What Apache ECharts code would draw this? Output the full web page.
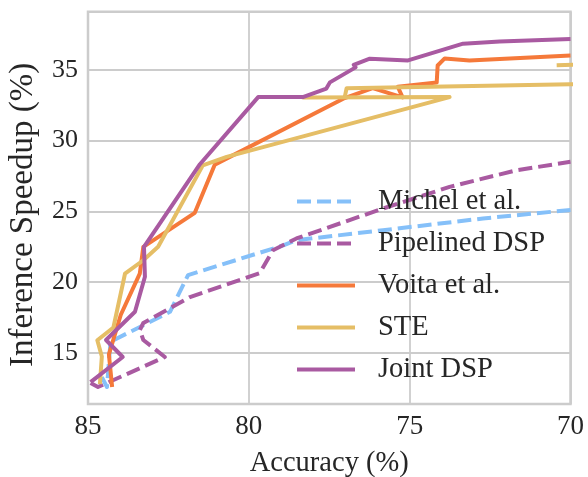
<!DOCTYPE html>
<html>
<head>
<meta charset="utf-8">
<script src="https://cdn.jsdelivr.net/npm/echarts@6/dist/echarts.min.js"></script>
<style>html,body{margin:0;padding:0;background:#fff}#c{width:588px;height:477px}</style>
</head>
<body>
<div id="c"></div>
<script>
// Data: [accuracy %, inference speedup %]
const michel = [[84.57,13.3],[84.41,12.6],[84.3,15.8],[82.45,17.91],[81.89,20.5],[78.93,22.6],[78.52,22.97],[75.83,23.67],[72.72,24.5],[70.0,25.1]];
const pipelined = [[84.92,12.88],[84.69,12.6],[82.61,14.72],[83.28,15.92],[83.39,16.62],[83.28,17.12],[81.83,18.95],[79.66,20.64],[79.25,22.26],[78.52,23.09],[75.83,25.2],[73.76,26.73],[71.69,27.9],[70.0,28.5]];
const voita = [[84.25,12.6],[84.35,14.9],[83.98,17.7],[83.39,20.6],[83.28,22.5],[81.68,24.9],[81.06,28.3],[77.02,33.0],[76.15,33.7],[75.22,33.05],[75.37,33.8],[74.16,34.1],[74.13,35.3],[73.91,35.8],[73.14,35.65],[70.0,36.0]];
const ste = [[84.63,12.8],[84.57,14.75],[84.71,15.9],[84.21,16.8],[83.85,20.6],[83.28,21.55],[82.82,22.5],[81.43,28.25],[80.69,28.85],[73.76,33.07],[78.32,33.05],[77.02,33.05],[76.96,33.7],[70.0,33.97],[68.5,34.05],[68.5,35.45],[70.43,35.32]];
const joint = [[84.92,12.95],[83.92,14.72],[84.44,15.92],[83.54,17.91],[83.23,20.38],[83.26,22.5],[81.52,28.33],[79.71,33.07],[78.32,33.07],[77.59,33.67],[77.48,34.11],[76.68,35.17],[76.74,35.35],[76.24,35.78],[75.05,35.66],[73.34,36.84],[72.2,37.0],[70.0,37.18]];
const seriesNames = ['Michel et al.','Pipelined DSP','Voita et al.','STE','Joint DSP'];
const xTicks = [85, 80, 75, 70];
const yTicks = [15, 20, 25, 30, 35];

const FONT = '"Liberation Serif", "Times New Roman", serif';
const colors = ['#85C0F9','#A95AA1','#F5793A','#E5BE66','#A95AA1'];
const datas = [michel, pipelined, voita, ste, joint];

const chart = echarts.init(document.getElementById('c'), null, {renderer:'canvas'});
chart.setOption({
  animation: false,
  backgroundColor: '#fff',
  grid: {left: 88, right: 17.5, top: 11.7, bottom: 73, show: true, borderColor: '#cccccc', borderWidth: 2.5,
    containLabel: false, outerBoundsMode: 'none'},
  legend: {
    orient: 'vertical', left: 290, top: 182,
    itemWidth: 58, itemHeight: 4, itemGap: 13,
    data: seriesNames,
    lineStyle: {width: 4},
    textStyle: {fontFamily: FONT, fontSize: 28.5, color: '#262626', lineHeight: 28, padding: [0,0,0,18]}
  },
  xAxis: {
    type: 'value', inverse: true, min: 70, max: 85, interval: 5,
    name: 'Accuracy (%)', nameLocation: 'middle', nameGap: 45,
    nameTextStyle: {fontFamily: FONT, fontSize: 28.5, color: '#262626'},
    axisLine: {show: false}, axisTick: {show: false},
    axisLabel: {fontFamily: FONT, fontSize: 27, color: '#262626', margin: 9,
      formatter: v => xTicks.includes(v) ? String(v) : ''},
    splitLine: {show: true, lineStyle: {color: '#cccccc', width: 1.8}}
  },
  yAxis: {
    type: 'value', min: 11.4, max: 39.1, splitNumber: 5,
    name: 'Inference Speedup (%)', nameLocation: 'middle', nameGap: 48,
    nameTextStyle: {fontFamily: FONT, fontSize: 33, color: '#262626', padding: [0, 14, 0, 0]},
    axisLine: {show: false}, axisTick: {show: false},
    axisLabel: {fontFamily: FONT, fontSize: 26, color: '#262626', margin: 10,
      showMinLabel: false, showMaxLabel: false,
      formatter: v => yTicks.includes(Math.round(v*1000)/1000) ? String(v) : ''},
    splitLine: {show: true, lineStyle: {color: '#cccccc', width: 1.8}}
  },
  series: datas.map((d, i) => ({
    name: seriesNames[i], type: 'line', data: d, symbol: 'none', showSymbol: false,
    clip: true, z: 2 + i,
    color: colors[i],
    lineStyle: {color: colors[i], width: 4, type: (i < 2 ? [14, 6] : 'solid'), cap: 'butt', join: 'round'}
  }))
});
</script>
</body>
</html>
